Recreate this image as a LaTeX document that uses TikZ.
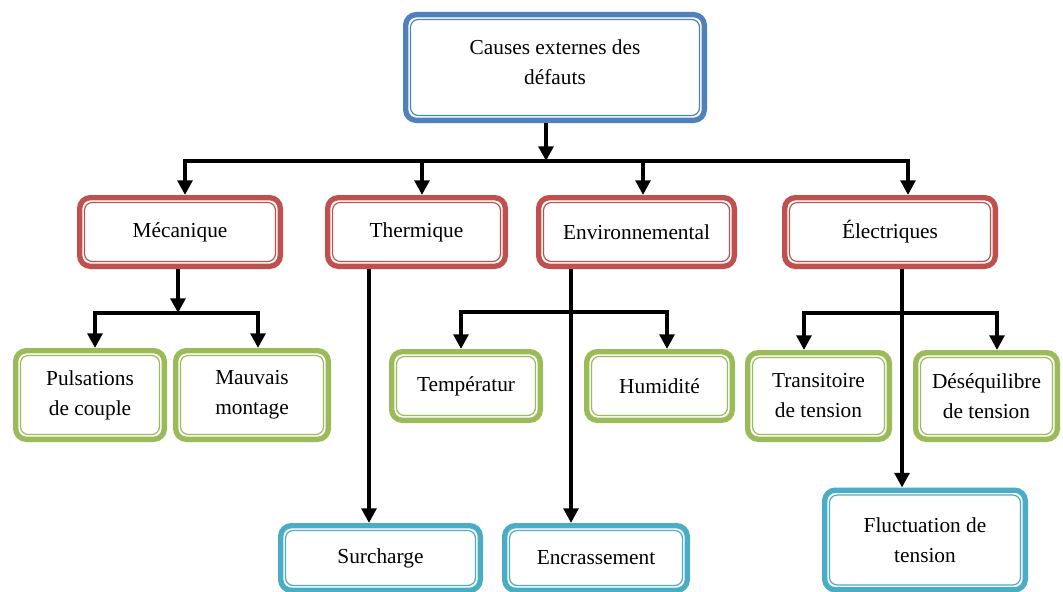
\documentclass[tikz,border=0pt]{standalone}
\usepackage{fontspec}
\setmainfont{Liberation Serif}
\usetikzlibrary{arrows.meta}
\definecolor{cBlue}{HTML}{4F81BD}
\definecolor{cRed}{HTML}{C0504D}
\definecolor{cGreen}{HTML}{9BBB59}
\definecolor{cCyan}{HTML}{4BACC6}
\tikzset{
  box/.style={draw=#1, line width=4pt, rounded corners=8pt, fill=white,
    align=center, inner sep=0pt, font=\fontsize{16}{22.5}\selectfont},
  innerring/.style={draw=#1, line width=0.9pt, rounded corners=6pt},
  arr/.style={line width=2.8pt, -{Triangle[width=11pt,length=11pt]}},
  ln/.style={line width=2.8pt},
}
\begin{document}
\begin{tikzpicture}[x=0.75pt,y=-0.75pt]
\useasboundingbox[fill=white] (0,0) rectangle (1063,592);

% top
\node[box=cBlue, minimum width=224pt, minimum height=79.3pt] (top) at (555,67.5) {};
\node[font=\fontsize{16}{22.5}\selectfont, align=center, inner sep=0pt] (toptext) at (555,62) {Causes externes des\\défauts};
% level 1
\node[box=cRed, minimum width=150.5pt, minimum height=51.5pt] (mec) at (180,232) {Mécanique};
\node[box=cRed, minimum width=133.25pt, minimum height=51.5pt] (ther) at (416.5,232) {Thermique};
\node[box=cRed, minimum width=146.75pt, minimum height=51.5pt] (env) at (636.5,232) {Environnemental};
\node[box=cRed, minimum width=158pt, minimum height=51.5pt] (ele) at (890,232) {Électriques};
% level 2 green
\node[box=cGreen, minimum width=111.5pt, minimum height=66.5pt] (puls) at (90,395) {Pulsations\\de couple};
\node[box=cGreen, minimum width=114.5pt, minimum height=66.5pt] (mauv) at (252,395) {Mauvais\\montage};
\node[box=cGreen, minimum width=111.5pt, minimum height=51.5pt] (temp) at (466,386) {Températur};
\node[box=cGreen, minimum width=109.25pt, minimum height=51.5pt] (hum) at (659.5,386) {Humidité};
\node[box=cGreen, minimum width=106.25pt, minimum height=65pt] (trans) at (818.5,396) {Transitoire\\de tension};
\node[box=cGreen, minimum width=106.25pt, minimum height=65pt] (deseq) at (986.5,396) {Déséquilibre\\de tension};
% level 3 cyan
\node[box=cCyan, minimum width=149.75pt, minimum height=48.5pt] (surch) at (380.5,558) {Surcharge};
\node[box=cCyan, minimum width=137pt, minimum height=48.5pt] (encr) at (596,558) {Encrassement};
\node[box=cCyan, minimum width=150.5pt, minimum height=74.75pt] (fluct) at (925,540) {Fluctuation de\\tension};

% inner rings
\foreach \n/\c in {top/cBlue, mec/cRed, ther/cRed, env/cRed, ele/cRed,
  puls/cGreen, mauv/cGreen, temp/cGreen, hum/cGreen, trans/cGreen, deseq/cGreen,
  surch/cCyan, encr/cCyan, fluct/cCyan}
  \draw[innerring=\c] ([xshift=5.6pt,yshift=-5.6pt]\n.north west) rectangle ([xshift=-5.6pt,yshift=5.6pt]\n.south east);

% main bus
\coordinate (tb) at (546,161);
\coordinate (b1) at (185,161);
\coordinate (b2) at (422,161);
\coordinate (b3) at (643,161);
\coordinate (b4) at (908,161);
\draw[arr] (tb |- top.south) -- (tb);
\draw[ln, line cap=rect] (b1) -- (b4);
\draw[arr] (b1) -- (b1 |- mec.north);
\draw[arr] (b2) -- (b2 |- ther.north);
\draw[arr] (b3) -- (b3 |- env.north);
\draw[arr] (b4) -- (b4 |- ele.north);

% Mecanique branch
\coordinate (m0) at (178,313);
\coordinate (m1) at (95,313);
\coordinate (m2) at (258,313);
\draw[arr] (m0 |- mec.south) -- (m0);
\draw[ln, line cap=rect] (m1) -- (m2);
\draw[arr] (m1) -- (m1 |- puls.north);
\draw[arr] (m2) -- (m2 |- mauv.north);

% Thermique branch
\coordinate (t0) at (369,300);
\draw[arr] (t0 |- ther.south) -- (t0 |- surch.north);

% Environnemental branch
\coordinate (e0) at (571,312);
\coordinate (e1) at (461,312);
\coordinate (e2) at (667,312);
\draw[arr] (e0 |- env.south) -- (e0 |- encr.north);
\draw[ln, line cap=rect] (e1) -- (e2);
\draw[arr] (e1) -- (e1 |- temp.north);
\draw[arr] (e2) -- (e2 |- hum.north);

% Electriques branch
\coordinate (l0) at (902,313);
\coordinate (l1) at (804,313);
\coordinate (l2) at (997,313);
\draw[arr] (l0 |- ele.south) -- (l0 |- fluct.north);
\draw[ln, line cap=rect] (l1) -- (l2);
\draw[arr] (l1) -- (l1 |- trans.north);
\draw[arr] (l2) -- (l2 |- deseq.north);
\end{tikzpicture}
\end{document}
